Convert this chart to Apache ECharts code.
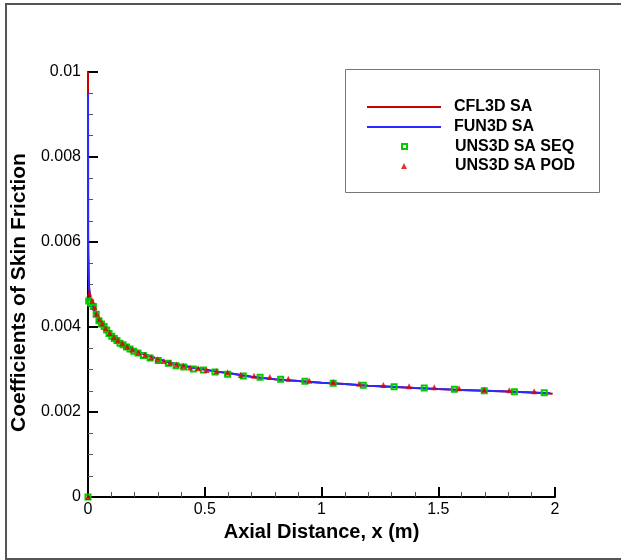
<!DOCTYPE html>
<html><head><meta charset="utf-8">
<script src="https://cdn.jsdelivr.net/npm/echarts@6/dist/echarts.min.js"></script>
<style>html,body{margin:0;padding:0;background:#fff}#c{width:621px;height:560px}</style>
</head><body><div id="c"></div>
<script>
// ---- data ----
const xTicks = [0, 0.5, 1, 1.5, 2];
const yTicks = [0, 0.002, 0.004, 0.006, 0.008, 0.01];

const cfl3dX = [0, 0.0005, 0.001, 0.003, 0.005, 0.008, 0.012, 0.02, 0.03, 0.04, 0.05, 0.07, 0.09, 0.11, 0.13, 0.15, 0.17, 0.2, 0.25, 0.3, 0.35, 0.4, 0.45, 0.5, 0.55, 0.6, 0.7, 0.8, 0.9, 1.0, 1.1, 1.2, 1.3, 1.4, 1.5, 1.6, 1.7, 1.8, 1.9, 1.99];
const cfl3dY = [0.0100, 0.0062, 0.0058, 0.0052, 0.0049, 0.00475, 0.0046, 0.0045, 0.00435, 0.0042, 0.00412, 0.00399, 0.00386, 0.00377, 0.00368, 0.00361, 0.00354, 0.00345, 0.00334, 0.00325, 0.00316, 0.0031, 0.00304, 0.003, 0.00295, 0.00292, 0.00283, 0.00277, 0.00273, 0.00269, 0.00266, 0.00262, 0.002595, 0.002565, 0.00254, 0.00252, 0.0025, 0.00248, 0.00246, 0.00243];

const fun3dX = [0, 0.0005, 0.001, 0.003, 0.005, 0.008, 0.012, 0.02, 0.03, 0.04, 0.05, 0.07, 0.09, 0.11, 0.13, 0.15, 0.17, 0.2, 0.25, 0.3, 0.35, 0.4, 0.45, 0.5, 0.55, 0.6, 0.7, 0.8, 0.9, 1.0, 1.1, 1.2, 1.3, 1.4, 1.5, 1.6, 1.7, 1.8, 1.9, 1.98];
const fun3dY = [0.0095, 0.0061, 0.0057, 0.0052, 0.0049, 0.00475, 0.0046, 0.0045, 0.00435, 0.0042, 0.00412, 0.00399, 0.00386, 0.00377, 0.00368, 0.00361, 0.00354, 0.00345, 0.00334, 0.00325, 0.00316, 0.0031, 0.00304, 0.003, 0.00295, 0.00292, 0.00283, 0.00277, 0.00273, 0.00269, 0.00266, 0.00262, 0.002595, 0.002565, 0.00254, 0.00252, 0.0025, 0.00248, 0.00246, 0.00244];

const seqX = [0, 0.003, 0.011, 0.023, 0.035, 0.047, 0.058, 0.069, 0.08, 0.09, 0.102, 0.113, 0.124, 0.137, 0.15, 0.165, 0.18, 0.196, 0.214, 0.237, 0.266, 0.301, 0.344, 0.377, 0.41, 0.451, 0.494, 0.544, 0.598, 0.665, 0.737, 0.825, 0.929, 1.05, 1.179, 1.311, 1.44, 1.569, 1.697, 1.826, 1.954];
const seqY = [0, 0.00461, 0.00457, 0.00448, 0.0043, 0.00415, 0.00407, 0.00401, 0.00393, 0.00385, 0.00378, 0.00373, 0.00368, 0.00362, 0.00358, 0.00353, 0.00348, 0.00343, 0.00339, 0.00333, 0.00327, 0.00321, 0.00315, 0.00309, 0.00306, 0.00301, 0.00299, 0.00294, 0.00289, 0.00285, 0.002817, 0.002769, 0.002722, 0.002675, 0.002628, 0.002595, 0.002565, 0.002534, 0.0025, 0.002475, 0.002454];

const podX = [0, 0.006, 0.018, 0.028, 0.037, 0.049, 0.061, 0.076, 0.093, 0.111, 0.128, 0.147, 0.168, 0.19, 0.216, 0.244, 0.27, 0.298, 0.325, 0.351, 0.379, 0.408, 0.437, 0.472, 0.508, 0.551, 0.598, 0.654, 0.711, 0.779, 0.858, 0.948, 1.05, 1.161, 1.265, 1.375, 1.483, 1.589, 1.697, 1.804, 1.911];
const podY = [0, 0.00478, 0.00462, 0.00446, 0.00431, 0.00418, 0.00408, 0.00397, 0.00386, 0.00376, 0.00369, 0.00362, 0.00354, 0.00347, 0.0034, 0.00335, 0.00329, 0.00324, 0.0032, 0.00316, 0.00312, 0.00309, 0.00305, 0.00303, 0.00299, 0.00296, 0.00293, 0.00287, 0.002854, 0.002824, 0.002784, 0.002737, 0.002706, 0.002666, 0.002635, 0.002605, 0.002581, 0.002558, 0.002525, 0.002511, 0.002487];

const seriesNames = ['CFL3D SA', 'FUN3D SA', 'UNS3D SA SEQ', 'UNS3D SA POD'];
const xTitle = 'Axial Distance, x (m)';
const yTitle = 'Coefficients of Skin Friction';

// ---- chart ----
const zip = (a, b) => a.map((v, i) => [v, b[i]]);
const FONT = '"Liberation Sans", Arial, Helvetica, sans-serif';
const chart = echarts.init(document.getElementById('c'), null, {renderer: 'canvas'});

const legendRows = [99, 119, 138.5, 158];
const legendText = {fontFamily: FONT, fontWeight: 'bold', fontSize: 16, color: '#000'};
const legends = [
  {data: [{name: seriesNames[0], icon: 'rect'}], left: 367, top: legendRows[0], padding: 0,
   itemWidth: 74, itemHeight: 2, selectedMode: false, textStyle: Object.assign({padding: [0, 0, 0, 8]}, legendText)},
  {data: [{name: seriesNames[1], icon: 'rect'}], left: 367, top: legendRows[1], padding: 0,
   itemWidth: 74, itemHeight: 2, selectedMode: false, textStyle: Object.assign({padding: [0, 0, 0, 8]}, legendText)},
  {data: [{name: seriesNames[2], icon: 'rect'}], left: 401, top: legendRows[2], padding: 0,
   itemWidth: 5, itemHeight: 5, selectedMode: false, textStyle: Object.assign({padding: [0, 0, 0, 43]}, legendText)},
  {data: [{name: seriesNames[3], icon: 'triangle'}], left: 401, top: legendRows[3], padding: 0,
   itemWidth: 6, itemHeight: 6, selectedMode: false, textStyle: Object.assign({padding: [0, 0, 0, 43]}, legendText)}
];

chart.setOption({
  animation: false,
  backgroundColor: '#fff',
  grid: {left: 88, right: 66, top: 72, bottom: 63, containLabel: false},
  graphic: [
    {type: 'polyline', shape: {points: [[660, 4], [6, 4], [6, 559], [660, 559]]}, style: {fill: 'none', stroke: '#555', lineWidth: 2}, z: -10},
    {type: 'rect', shape: {x: 345.5, y: 69.5, width: 254, height: 123}, style: {fill: '#fff', stroke: '#777', lineWidth: 1}, z: 1}
  ],
  legend: legends,
  xAxis: {
    type: 'value', min: 0, max: 2, interval: 0.5,
    name: xTitle, nameLocation: 'middle', nameGap: 16,
    nameTextStyle: {fontFamily: FONT, fontWeight: 'bold', fontSize: 20, color: '#000'},
    axisLine: {show: true, onZero: false, lineStyle: {color: '#000', width: 2}},
    axisTick: {show: true, inside: true, length: 10, lineStyle: {color: '#000', width: 2}},
    minorTick: {show: true, splitNumber: 5, length: 5, lineStyle: {color: '#555', width: 1}},
    axisLabel: {fontFamily: FONT, fontSize: 16, color: '#000', margin: 5,
      formatter: v => String(xTicks.includes(v) ? v : v)},
    splitLine: {show: false}
  },
  yAxis: {
    type: 'value', min: 0, max: 0.01, interval: 0.002,
    name: yTitle, nameLocation: 'middle', nameGap: 50, nameRotate: 90,
    nameTextStyle: {fontFamily: FONT, fontWeight: 'bold', fontSize: 21, color: '#000', padding: [0, 16, 0, 0]},
    axisLine: {show: true, onZero: false, lineStyle: {color: '#000', width: 2}},
    axisTick: {show: true, inside: true, length: 10, lineStyle: {color: '#000', width: 2}},
    minorTick: {show: true, splitNumber: 4, length: 5, lineStyle: {color: '#555', width: 1}},
    axisLabel: {fontFamily: FONT, fontSize: 16, color: '#000', margin: 7,
      formatter: v => String(yTicks.includes(v) ? v : v)},
    splitLine: {show: false}
  },
  series: [
    {name: seriesNames[0], type: 'line', data: zip(cfl3dX, cfl3dY), showSymbol: false, symbol: 'none',
     lineStyle: {color: '#cc0000', width: 2}, itemStyle: {color: '#cc0000'}, clip: true, z: 2},
    {name: seriesNames[1], type: 'line', data: zip(fun3dX, fun3dY), showSymbol: false, symbol: 'none',
     lineStyle: {color: '#2a2aff', width: 2}, itemStyle: {color: '#2a2aff'}, clip: true, z: 2},
    {name: seriesNames[2], type: 'scatter', data: zip(seqX, seqY), symbol: 'rect', symbolSize: 5,
     itemStyle: {color: 'rgba(0,0,0,0)', borderColor: '#00cc00', borderWidth: 2, opacity: 1}, z: 3},
    {name: seriesNames[3], type: 'scatter', data: zip(podX, podY), symbol: 'triangle', symbolSize: 6,
     itemStyle: {color: '#dd0000'}, z: 3}
  ]
});
</script></body></html>
